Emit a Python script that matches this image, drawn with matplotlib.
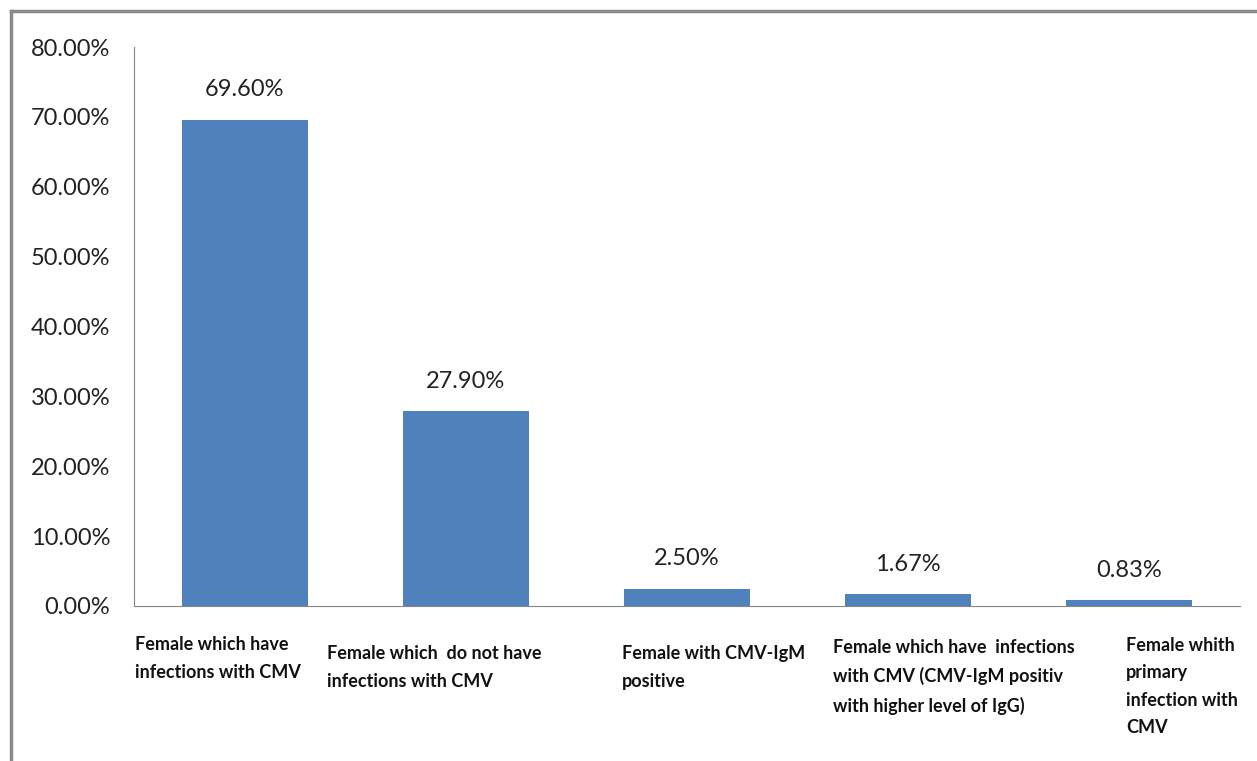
import matplotlib.pyplot as plt
from matplotlib.lines import Line2D
from matplotlib.ticker import PercentFormatter
import matplotlib.transforms as mtransforms

categories = [
    'Female which have\ninfections with CMV',
    'Female which  do not have\ninfections with CMV',
    'Female with CMV-IgM\npositive',
    'Female which have  infections\nwith CMV (CMV-IgM positiv\nwith higher level of IgG)',
    'Female whith\nprimary\ninfection with\nCMV',
]
values = [69.60, 27.90, 2.50, 1.67, 0.83]
yticks = [0, 10, 20, 30, 40, 50, 60, 70, 80]

# label placement (left edge offset from bar centre, top in axes fraction)
label_dx = [-0.495, -0.627, -0.294, -0.34, -0.015]
label_top = [-0.054, -0.070, -0.070, -0.059, -0.055]

plt.rcParams['font.family'] = ['Lato', 'DejaVu Sans']

fig = plt.figure(figsize=(12.57, 7.61), dpi=100)
ax = fig.add_axes([0.1066, 0.2037, 0.8799, 0.7345])

x = list(range(len(values)))
ax.bar(x, values, width=0.57, color='#4F81BD')

for xi, v in zip(x, values):
    ax.annotate(f'{v:.2f}%', (xi, v), xytext=(0, 14), textcoords='offset points',
                ha='center', va='bottom', fontsize=17, color='#222222')

ax.set_xlim(-0.5, 4.5)
ax.set_ylim(0, 80)
ax.set_yticks(yticks)
ax.yaxis.set_major_formatter(PercentFormatter(decimals=2))
ax.tick_params(axis='y', length=0, pad=17, labelsize=17, labelcolor='#222222')
ax.set_xticks([])

for s in ['top', 'right']:
    ax.spines[s].set_visible(False)
ax.spines['left'].set_color('#868686')
ax.spines['bottom'].set_color('#868686')

trans = mtransforms.blended_transform_factory(ax.transData, ax.transAxes)
for xi, lab, dx, ty in zip(x, categories, label_dx, label_top):
    ax.text(xi + dx, ty, lab, transform=trans, ha='left', va='top',
            fontsize=13, fontweight='bold', color='#111111', linespacing=1.75)

# outer frame (top and left only)
fig.add_artist(Line2D([11 / 1257, 1], [1 - 11 / 761, 1 - 11 / 761],
                      transform=fig.transFigure, color='#8a8a8a', lw=2.5))
fig.add_artist(Line2D([11 / 1257, 11 / 1257], [0, 1 - 11 / 761],
                      transform=fig.transFigure, color='#8a8a8a', lw=2.5))

fig.savefig('out.png', dpi=100)
